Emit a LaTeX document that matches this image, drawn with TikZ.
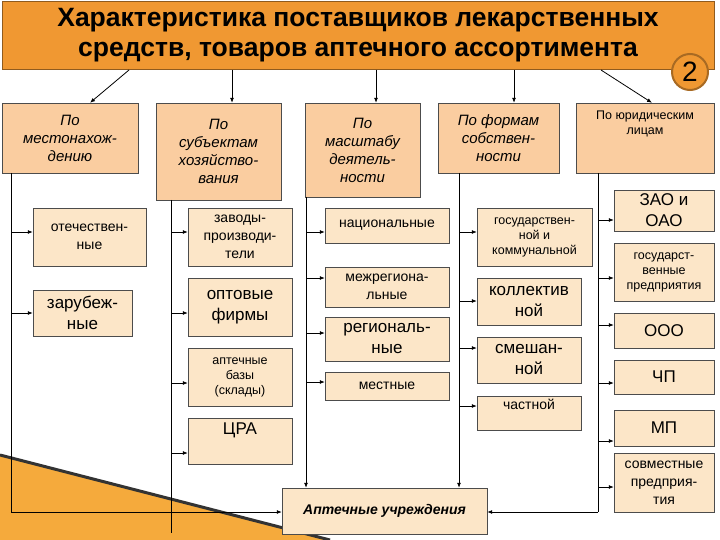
\documentclass[tikz,border=0pt]{standalone}
\usepackage{fontspec}
\setmainfont{Liberation Sans}
\usetikzlibrary{arrows.meta}
\definecolor{titleor}{RGB}{240,152,50}
\definecolor{headfill}{RGB}{250,205,160}
\definecolor{subfill}{RGB}{252,230,200}
\definecolor{wedge}{RGB}{245,170,60}
\tikzset{
  head/.style={draw=black!70, fill=headfill, align=center, inner sep=2pt,
               font=\fontsize{15}{18}\selectfont\itshape},
  sub/.style={draw=black!70, fill=subfill, align=center, inner sep=1pt,
              font=\fontsize{14}{18}\selectfont},
  big/.style={font=\fontsize{17}{21}\selectfont},
  small/.style={font=\fontsize{12.5}{15}\selectfont},
  arr/.style={-{Latex[length=5pt,width=4pt]}, thick},
  line/.style={thick}
}
\begin{document}
\begin{tikzpicture}[x=1pt,y=-1pt]
\useasboundingbox (0,0) rectangle (720,540);
% decoration
\fill[wedge] (0,455) -- (330,540) -- (0,540) -- cycle;
\draw[black!80, line width=3pt] (0,455) -- (330,540);
% title
\node[draw=titleor!60!black, fill=titleor, minimum width=712, minimum height=68,
      align=center, font=\fontsize{26.5}{30}\selectfont\bfseries]
  (title) at (358,35) {Характеристика поставщиков лекарственных\\средств, товаров аптечного ассортимента};
\node[circle, draw=titleor!70!black, fill=titleor, line width=2pt, minimum size=36,
      font=\fontsize{28}{28}\selectfont] (badge) at (690,72) {2};
% headers
\node[head, minimum width=136, minimum height=70] (hA) at (70,138) {По\\местонахож-\\дению};
\node[head, minimum width=125, minimum height=97] (hB) at (218.5,151.5) {По\\субъектам\\хозяйство-\\вания};
\node[head, minimum width=115, minimum height=94] (hC) at (362.5,150) {По\\масштабу\\деятель-\\ности};
\node[head, minimum width=121, minimum height=70] (hD) at (498.5,138) {По формам\\собствен-\\ности};
\node[head, small, minimum width=138, minimum height=70] (hE) at (645,138) {По юридическим\\лицам\\[16pt]\mbox{}};
% title arrows
\draw[arr] (129,70) -- (hA.north -| 90,0);
\draw[arr] (232,70) -- (hB.north -| 232,0);
\draw[arr] (376,70) -- (hC.north -| 376,0);
\draw[arr] (514,70) -- (hD.north -| 514,0);
\draw[arr] (601,70) -- (hE.north -| 652,0);
% column A
\node[sub, minimum width=113, minimum height=58] (otech) at (89.5,237) {отечествен-\\ные};
\node[sub, big, minimum width=99, minimum height=46] (zarub) at (82.5,313) {зарубеж-\\ные};
% column B
\node[sub, minimum width=104, minimum height=58] (zavod) at (240,237) {заводы-\\производи-\\тели};
\node[sub, big, minimum width=104, minimum height=58] (optov) at (240,307) {оптовые\\фирмы};
\node[sub, small, minimum width=104, minimum height=58] (baza) at (240,377) {аптечные\\базы\\(склады)};
\node[sub, big, minimum width=104, minimum height=46] (cra) at (240,441) {ЦРА\\[4pt]\mbox{}};
% column C
\node[sub, minimum width=124, minimum height=35] (nats) at (387,225.5) {национальные};
\node[sub, minimum width=124, minimum height=40] (mezh) at (387,287) {межрегиона-\\льные};
\node[sub, big, minimum width=124, minimum height=44] (regn) at (387,339) {региональ-\\ные};
\node[sub, minimum width=124, minimum height=28] (mest) at (387,386) {местные};
% column D
\node[sub, small, minimum width=115, minimum height=58] (gos) at (534.5,237) {государствен-\\ной и\\коммунальной};
\node[sub, big, minimum width=104, minimum height=47] (koll) at (529,301.5) {коллектив\\ной};
\node[sub, big, minimum width=104, minimum height=46] (smesh) at (529,360) {смешан-\\ной};
\node[sub, minimum width=104, minimum height=34] (chast) at (529,413) {частной\\[0pt]\mbox{}};
% column E
\node[sub, big, minimum width=100, minimum height=41] (zao) at (664,210.5) {ЗАО и\\ОАО};
\node[sub, small, minimum width=100, minimum height=58] (gosp) at (664,272) {государст-\\венные\\предприятия};
\node[sub, big, minimum width=100, minimum height=35] (ooo) at (664,330.5) {ООО};
\node[sub, big, minimum width=100, minimum height=34] (chp) at (664,377) {ЧП};
\node[sub, big, minimum width=100, minimum height=36] (mp) at (664,428) {МП};
\node[sub, minimum width=100, minimum height=59] (sovm) at (664,482.5) {совместные\\предприя-\\тия};
% target
\node[draw=black!70, fill=subfill, minimum width=205, minimum height=46, inner sep=1pt,
      font=\fontsize{14}{16}\selectfont\bfseries\itshape] (aptu) at (384.5,511) {Аптечные учреждения\\[10pt]\mbox{}};
% spines
\coordinate (sA) at (11,173);  \coordinate (eA) at (11,512);
\coordinate (sB) at (171,200); \coordinate (eB) at (171,533);
\coordinate (sC) at (306,197);
\coordinate (sD) at (459,173);
\coordinate (sE) at (598,173); \coordinate (eE) at (598,512);
\draw[line] (sA) -- (eA);
\draw[arr] (eA) -- (aptu.west |- eA);
\draw[line] (sB) -- (eB);
\draw[arr] (sC) -- (sC |- aptu.north);
\draw[arr] (sD) -- (sD |- aptu.north);
\draw[line] (sE) -- (eE);
\draw[arr] (eE) -- (aptu.east |- eE);
% branches
\draw[arr] (sA |- 0,232) -- (otech.west |- 0,232);
\draw[arr] (sA |- 0,313) -- (zarub.west |- 0,313);
\draw[arr] (sB |- 0,232) -- (zavod.west |- 0,232);
\draw[arr] (sB |- 0,313) -- (optov.west |- 0,313);
\draw[arr] (sB |- 0,383) -- (baza.west |- 0,383);
\draw[arr] (sB |- 0,453) -- (cra.west |- 0,453);
\draw[arr] (sC |- 0,232) -- (nats.west |- 0,232);
\draw[arr] (sC |- 0,278) -- (mezh.west |- 0,278);
\draw[arr] (sC |- 0,333) -- (regn.west |- 0,333);
\draw[arr] (sC |- 0,382) -- (mest.west |- 0,382);
\draw[arr] (sD |- 0,232) -- (gos.west |- 0,232);
\draw[arr] (sD |- 0,301) -- (koll.west |- 0,301);
\draw[arr] (sD |- 0,348) -- (smesh.west |- 0,348);
\draw[arr] (sD |- 0,406) -- (chast.west |- 0,406);
\draw[arr] (sE |- 0,220) -- (zao.west |- 0,220);
\draw[arr] (sE |- 0,278) -- (gosp.west |- 0,278);
\draw[arr] (sE |- 0,325) -- (ooo.west |- 0,325);
\draw[arr] (sE |- 0,383) -- (chp.west |- 0,383);
\draw[arr] (sE |- 0,441) -- (mp.west |- 0,441);
\draw[arr] (sE |- 0,487) -- (sovm.west |- 0,487);
\end{tikzpicture}
\end{document}
